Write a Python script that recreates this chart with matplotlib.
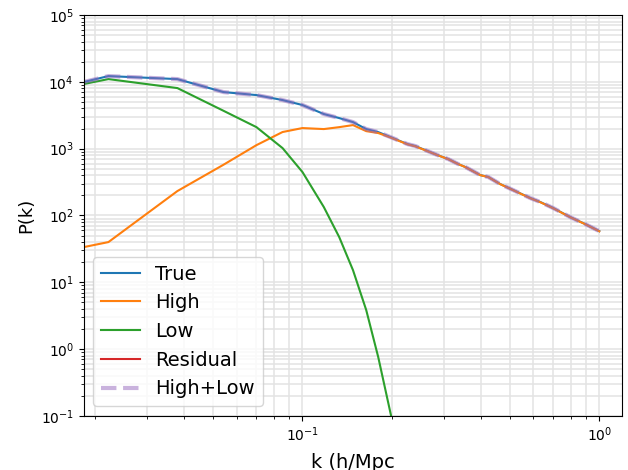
import matplotlib
matplotlib.use("Agg")
import matplotlib.pyplot as plt

# k bins (h/Mpc)
k = [0.0183, 0.0222, 0.0379, 0.0542, 0.070, 0.0857, 0.100, 0.118, 0.133, 0.148,
     0.164, 0.180, 0.198, 0.226, 0.240, 0.285, 0.310, 0.335, 0.354, 0.397,
     0.423, 0.464, 0.513, 0.586, 0.633, 0.700, 0.798, 0.897, 1.000]

p_true = [9930, 12200, 11000, 7030, 6340, 5340, 4500, 3300, 2870, 2500,
          1965, 1770, 1490, 1170, 1095, 802, 698, 588, 531, 403,
          376, 295, 240, 182, 159, 129, 94.6, 74.3, 58.3]

p_high = [33.6, 40, 232, 575, 1130, 1775, 2035, 1965, 2100, 2255,
          1830, 1713, 1470, 1160, 1085, 800, 696, 587, 530, 402,
          375, 294, 239, 181, 158, 128, 94.3, 74.0, 58.0]

p_low = [9270, 11000, 8070, 3690, 2100, 1020, 447, 134, 47.5, 15.2,
         3.84, 0.76, 0.110, 0.008]
k_low = k[:len(p_low)]

p_resid = [0.001] * len(k)

p_highlow = [9930, 12200, 11000, 7030, 6340, 5340, 4500, 3300, 2870, 2500,
             1965, 1770, 1490, 1170, 1095, 802, 698, 588, 531, 403,
             376, 295, 240, 182, 159, 129, 94.6, 74.3, 58.3]

fig = plt.figure(figsize=(6.28, 4.70), dpi=100)
ax = fig.add_axes([0.133, 0.115, 0.857, 0.853])

ax.loglog(k, p_true, label="True")
ax.loglog(k, p_high, label="High")
ax.loglog(k_low, p_low, label="Low")
ax.loglog(k, p_resid, label="Residual")
ax.loglog(k, p_highlow, "--", color="C4", alpha=0.5, linewidth=3, label="High+Low")

ax.set_xlim(0.0183, 1.19)
ax.set_ylim(1e-1, 1e5)
ax.grid(True, which="both", color="0.89", linewidth=1.1)
ax.tick_params(labelsize=10)
ax.set_xlabel("k (h/Mpc", fontsize=14, labelpad=6)
ax.set_ylabel("P(k)", fontsize=13)
ax.legend(loc="lower left", fontsize=14)

fig.savefig("out.png", dpi=100)
